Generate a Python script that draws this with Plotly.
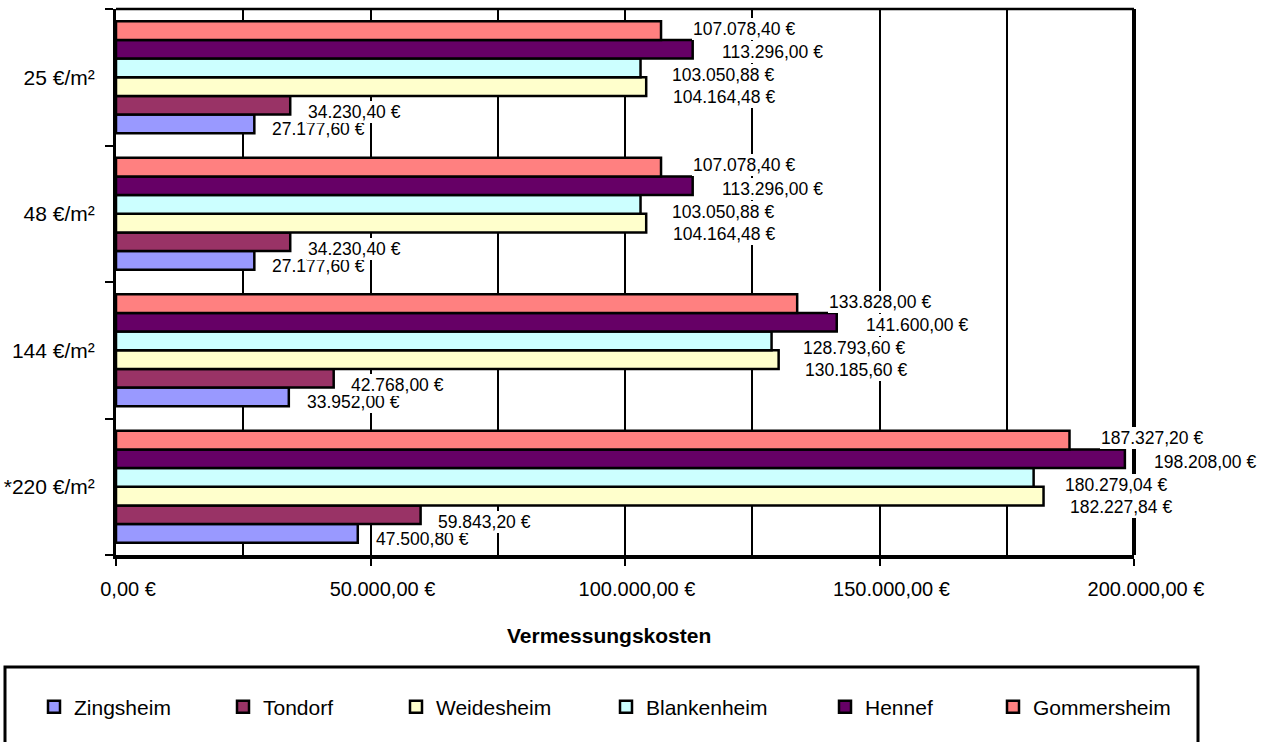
import plotly.graph_objects as go

# ---- data -------------------------------------------------------------
categories = ["*220 €/m²", "144 €/m²", "48 €/m²", "25 €/m²"]

zingsheim = [47500.80, 33952.00, 27177.60, 27177.60]
tondorf = [59843.20, 42768.00, 34230.40, 34230.40]
weidesheim = [182227.84, 130185.60, 104164.48, 104164.48]
blankenheim = [180279.04, 128793.60, 103050.88, 103050.88]
hennef = [198208.00, 141600.00, 113296.00, 113296.00]
gommersheim = [187327.20, 133828.00, 107078.40, 107078.40]

x_tickvals = [0, 50000, 100000, 150000, 200000]
x_ticktext = ["0,00 €", "50.000,00 €", "100.000,00 €", "150.000,00 €", "200.000,00 €"]

# ---- styling ----------------------------------------------------------
FONT = "Liberation Sans, Arial, sans-serif"
W, H = 1266, 742
L, R, T, B = 116, 132, 9, 187
PW, PH = W - L - R, H - T - B
BARGAP = 0.18

# name, values, fill colour, label x-offset (px), label y-offset (px, down),
# legend text start (px)
series = [
    ("Zingsheim", zingsheim, "#9999FF", 17, 5.5, 74),
    ("Tondorf", tondorf, "#993366", 16.5, 6.8, 263),
    ("Weidesheim", weidesheim, "#FFFFCC", 25.5, 10.6, 436),
    ("Blankenheim", blankenheim, "#CCFFFF", 30.5, 7.2, 646),
    ("Hennef", hennef, "#660066", 28.5, 3.2, 865),
    ("Gommersheim", gommersheim, "#FF8080", 30.5, -1.8, 1033),
]


def euro(v):
    s = f"{v:,.2f}".replace(",", "#").replace(".", ",").replace("#", ".")
    return s + " €"


def px_to_paper_x(px):
    return (px - L) / PW


def px_to_paper_y(py):
    return (H - B - py) / PH


fig = go.Figure()
annotations = []
layout_legends = {}
n = len(series)
slot = (1 - BARGAP) / n

for i, (name, vals, color, dx, dy, legend_x) in enumerate(series):
    legend_id = "legend" if i == 0 else f"legend{i + 1}"
    fig.add_trace(
        go.Bar(
            name=name,
            y=categories,
            x=vals,
            orientation="h",
            marker=dict(color=color, line=dict(color="black", width=2.5)),
            legend=legend_id,
            showlegend=True,
            hovertemplate="%{y}: %{x:,.2f} €<extra>" + name + "</extra>",
        )
    )
    layout_legends[legend_id] = dict(
        x=(legend_x - 40) / W,
        xref="container",
        y=1 - 707 / H,
        yref="container",
        xanchor="left",
        yanchor="middle",
        orientation="h",
        bgcolor="rgba(0,0,0,0)",
        borderwidth=0,
        font=dict(family=FONT, size=21, color="black"),
    )
    # value labels beside the bar ends
    offset = -(1 - BARGAP) / 2 + (i + 0.5) * slot
    for j, v in enumerate(vals):
        annotations.append(
            dict(
                x=v,
                y=j + offset,
                xref="x",
                yref="y",
                text=euro(v),
                showarrow=False,
                xanchor="left",
                yanchor="middle",
                xshift=dx,
                yshift=-dy,
                bgcolor="white",
                borderpad=1,
                borderwidth=0,
                font=dict(family=FONT, size=17.5, color="black"),
            )
        )

# axis title
annotations.append(
    dict(
        x=px_to_paper_x(608.5),
        y=px_to_paper_y(635),
        xref="paper",
        yref="paper",
        text="<b>Vermessungskosten</b>",
        showarrow=False,
        xanchor="center",
        yanchor="middle",
        font=dict(family=FONT, size=21, color="black"),
    )
)

shapes = [
    # top border of the plot area
    dict(type="line", xref="paper", yref="paper", x0=0, x1=1, y0=1, y1=1,
         line=dict(color="black", width=2.5)),
    # right border of the plot area
    dict(type="line", xref="paper", yref="paper", x0=1, x1=1, y0=0, y1=1,
         line=dict(color="black", width=4)),
    # legend frame
    dict(type="rect", xref="paper", yref="paper",
         x0=px_to_paper_x(5), x1=px_to_paper_x(1198),
         y0=px_to_paper_y(667), y1=px_to_paper_y(770),
         line=dict(color="black", width=3), fillcolor="rgba(0,0,0,0)"),
]

fig.update_layout(
    width=W,
    height=H,
    margin=dict(l=L, r=R, t=T, b=B, autoexpand=False),
    paper_bgcolor="white",
    plot_bgcolor="white",
    barmode="group",
    bargap=BARGAP,
    bargroupgap=0,
    showlegend=True,
    font=dict(family=FONT, size=20, color="black"),
    annotations=annotations,
    shapes=shapes,
    **layout_legends,
)

fig.update_xaxes(
    range=[0, 200000],
    tickmode="array",
    tickvals=x_tickvals,
    ticktext=x_ticktext,
    ticks="outside",
    ticklen=7,
    tickwidth=2,
    tickcolor="black",
    ticklabelshift=12,
    ticklabelstandoff=6,
    tickfont=dict(family=FONT, size=20, color="black"),
    showline=True,
    linecolor="black",
    linewidth=4,
    showgrid=True,
    gridcolor="black",
    gridwidth=2,
    zeroline=False,
    minor=dict(dtick=25000, tick0=0, showgrid=True, gridcolor="black",
               gridwidth=2, ticks=""),
)

fig.update_yaxes(
    type="category",
    categoryorder="array",
    categoryarray=categories,
    ticks="outside",
    tickson="boundaries",
    ticklen=8,
    tickwidth=2,
    tickcolor="black",
    ticklabelstandoff=14,
    tickfont=dict(family=FONT, size=21, color="black"),
    showline=True,
    linecolor="black",
    linewidth=3,
    showgrid=False,
    zeroline=False,
)

fig.write_html("out.html")
